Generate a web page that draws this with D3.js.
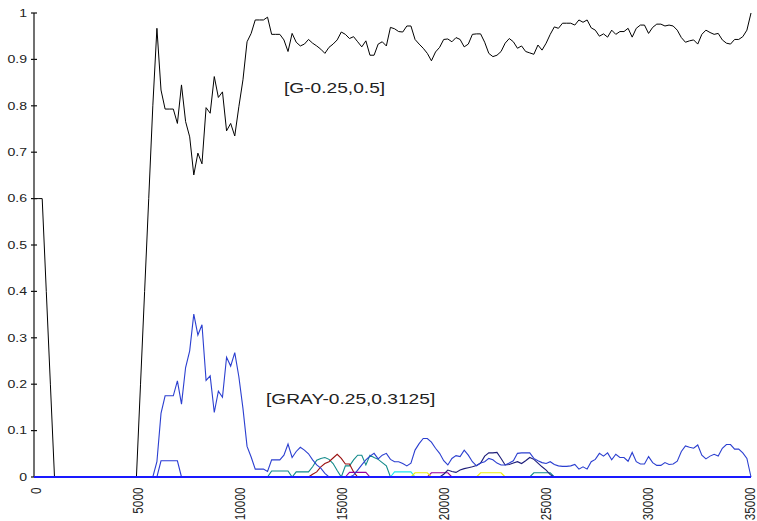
<!DOCTYPE html>
<html><head><meta charset="utf-8">
<script src="https://cdn.jsdelivr.net/npm/d3@7"></script>
<style>
html,body{margin:0;padding:0;background:#fff;}
svg{display:block;}
text{font-family:"Liberation Sans",Arial,Helvetica,sans-serif;fill:#222;}
</style></head>
<body>
<svg id="chart" width="757" height="521"></svg>
<script>
// ---- data ----
const xStep = 200;            // samples every 200 units from 0 to 35000
const xTicks = [0,5000,10000,15000,20000,25000,30000,35000];
const yTicks = [0,0.1,0.2,0.3,0.4,0.5,0.6,0.7,0.8,0.9,1];

const seriesG = [0.6,0.6,0.6,0.4,0.2,
 0,0,0,0,0,0,0,0,0,0,0,0,0,0,0,0,0,0,0,0,0,
 0.2,0.4,0.6,0.8,
 0.967,0.834,0.793,0.793,0.793,0.762,0.845,0.766,0.733,0.651,
 0.698,0.675,0.796,0.784,0.863,0.818,0.830,0.746,0.762,0.735,
 0.798,0.856,0.938,0.956,0.985,0.985,0.985,0.991,0.954,0.954,
 0.954,0.942,0.917,0.956,0.937,0.929,0.933,0.943,0.935,0.929,
 0.922,0.913,0.926,0.933,0.942,0.959,0.954,0.945,0.949,0.938,
 0.927,0.940,0.909,0.909,0.933,0.938,0.929,0.969,0.966,0.960,
 0.959,0.972,0.972,0.943,0.933,0.924,0.913,0.897,0.916,0.926,
 0.943,0.944,0.938,0.947,0.943,0.927,0.933,0.954,0.955,0.955,
 0.937,0.913,0.906,0.909,0.917,0.935,0.945,0.938,0.924,0.929,
 0.917,0.914,0.911,0.931,0.920,0.935,0.954,0.970,0.967,0.978,
 0.978,0.978,0.974,0.985,0.980,0.985,0.968,0.963,0.950,0.955,
 0.948,0.963,0.954,0.960,0.960,0.967,0.948,0.967,0.974,0.974,
 0.956,0.969,0.976,0.976,0.972,0.974,0.972,0.963,0.947,0.937,
 0.940,0.942,0.933,0.954,0.963,0.958,0.954,0.956,0.942,0.935,
 0.933,0.943,0.943,0.949,0.963,1.0];

const seriesGray = [0,0,0,0,0,0,0,0,0,0,0,0,0,0,0,0,0,0,0,0,0,0,0,0,0,0,0,0,0,0,
 0.033,0.137,0.175,0.175,0.175,0.207,0.157,0.236,0.272,0.351,
 0.306,0.328,0.208,0.218,0.139,0.185,0.172,0.258,0.239,0.268,
 0.216,0.148,0.066,0.043,0.017,0.017,0.017,0.012,0.037,0.037,
 0.037,0.047,0.071,0.042,0.055,0.064,0.058,0.050,0.037,0.026,
 0.019,0.008,0,0,0,0,0,0,0.004,0.015,
 0.026,0.037,0.045,0.051,0.039,0.047,0.051,0.038,0.033,0.033,
 0.029,0.024,0.030,0.058,0.072,0.083,0.083,0.075,0.062,0.051,
 0.035,0.026,0.040,0.046,0.044,0.058,0.047,0.033,0.024,0.030,
 0.033,0.040,0.037,0.030,0.026,0.026,0.030,0.035,0.051,0.052,
 0.052,0.052,0.040,0.035,0.031,0.029,0.033,0.027,0.024,0.023,
 0.023,0.024,0.027,0.017,0.022,0.017,0.033,0.038,0.051,0.045,
 0.052,0.037,0.049,0.042,0.042,0.034,0.053,0.033,0.028,0.028,
 0.044,0.031,0.025,0.025,0.031,0.027,0.028,0.034,0.055,0.067,
 0.064,0.062,0.069,0.047,0.039,0.045,0.049,0.045,0.062,0.070,
 0.070,0.060,0.060,0.052,0.040,0];

// minor series: [x, value] points (zero elsewhere)
const seriesBlue2 = [[5800,0],[6000,0],[6200,0.035],[6400,0.035],[6600,0.035],[6800,0.035],[7000,0.035],[7200,0]];
const seriesTeal = [[11400,0],[11600,0.013],[12400,0.013],[12600,0],[12800,0.011],[13400,0.011],[13600,0.022],[13800,0.036],[14000,0.040],[14200,0.042],[14400,0.038],[14600,0.029],[14800,0.014],[15000,0],[15200,0.024],[15400,0.024],[15600,0.037],[15800,0.047],[16000,0.047],[16200,0.026],[16400,0.047],[16600,0.042],[16800,0.038],[17000,0.031],[17200,0.024],[17400,0],
 [24200,0],[24400,0.009],[25200,0.009],[25400,0]];
const seriesRed = [[13400,0],[13600,0.006],[13800,0.011],[14000,0.022],[14200,0.029],[14400,0.033],[14600,0.041],[14800,0.049],[15000,0.040],[15200,0.028],[15400,0.028],[15600,0.011],[15800,0]];
const seriesPurple = [[15200,0],[15400,0.010],[16200,0.010],[16400,0],
 [19200,0],[19400,0.009],[20200,0.009],[20400,0]];
const seriesCyan = [[17400,0],[17600,0.011],[18400,0.011],[18600,0]];
const seriesYellow = [[18400,0],[18600,0.009],[19200,0.009],[19400,0],
 [21600,0],[21800,0.009],[22800,0.009],[23000,0]];
const seriesNavy = [[19800,0],[20000,0.006],[20200,0.015],[20400,0.012],[20600,0.010],[20800,0.015],[21000,0.018],[21200,0.020],[21400,0.022],[21600,0.025],[21800,0.030],[22000,0.045],[22200,0.052],[22400,0.052],[22600,0.053],[22800,0.040],[23000,0.026],[23200,0.027],[23400,0.030],[23600,0.033],[23800,0.029],[24000,0.035],[24200,0.042],[24400,0.038],[24600,0.030],[24800,0.022],[25000,0.015],[25200,0.005],[25400,0]];

const labelG = "[G-0.25,0.5]";
const labelGray = "[GRAY-0.25,0.3125]";

// ---- drawing ----
const svg = d3.select("#chart");
const x = d3.scaleLinear().domain([0,35000]).range([34,751]);
const y = d3.scaleLinear().domain([0,1]).range([477,13]);
const xLabelPos = d3.scaleLinear().domain([0,35000]).range([35.5,749.5]);
const stretch = 1.34;

const toPts = arr => arr.map((v,i)=>[i*xStep, v]);
const line = d3.line().x(d=>x(d[0])).y(d=>y(d[1]));

const minor = [
  [seriesBlue2, "#2a3ad6"],
  [seriesTeal, "#118a8a"],
  [seriesRed, "#9a1010"],
  [seriesPurple, "#990099"],
  [seriesCyan, "#22e4ee"],
  [seriesYellow, "#eeee10"],
  [seriesNavy, "#1c1c78"]
];
minor.forEach(([d,c])=>{
  svg.append("path").datum(d).attr("d",line)
    .attr("fill","none").attr("stroke",c).attr("stroke-width",1.1);
});
svg.append("path").datum(toPts(seriesGray)).attr("d",line)
  .attr("fill","none").attr("stroke","#2b3fd0").attr("stroke-width",1.1);
svg.append("path").datum(toPts(seriesG)).attr("d",line)
  .attr("fill","none").attr("stroke","#000").attr("stroke-width",1);

// y axis
const yAxisG = svg.append("g").attr("transform","translate(34,0)");
yAxisG.append("line").attr("x1",0).attr("x2",0).attr("y1",y(1)).attr("y2",y(0))
  .attr("stroke","#111").attr("stroke-width",1.2);
yTicks.forEach(t=>{
  yAxisG.append("line").attr("x1",-3).attr("x2",3).attr("y1",y(t)).attr("y2",y(t))
    .attr("stroke","#111").attr("stroke-width",1.2);
  svg.append("text")
    .attr("transform",`translate(27,${y(t)}) scale(${stretch},1)`)
    .attr("text-anchor","end").attr("dy","0.36em")
    .style("font-size","10.5px")
    .text(d3.format("")(t));
});

// x axis (baseline appears blue where all zero series overlap)
svg.append("line").attr("x1",x(0)).attr("x2",x(35000)).attr("y1",y(0)).attr("y2",y(0))
  .attr("stroke","#1a1aff").attr("stroke-width",2);
xTicks.forEach(t=>{
  svg.append("text")
    .attr("transform",`translate(${xLabelPos(t)},487.5) scale(1.28,1) rotate(-90)`)
    .attr("text-anchor","end").attr("dy","0.36em")
    .style("font-size","11.8px")
    .text(t);
});

// annotations
svg.append("text").attr("transform",`translate(284,92.5) scale(${stretch},1)`)
  .style("font-size","14.3px").text(labelG);
svg.append("text").attr("transform",`translate(266,404) scale(${stretch},1)`)
  .style("font-size","14.3px").text(labelGray);
</script>
</body></html>
